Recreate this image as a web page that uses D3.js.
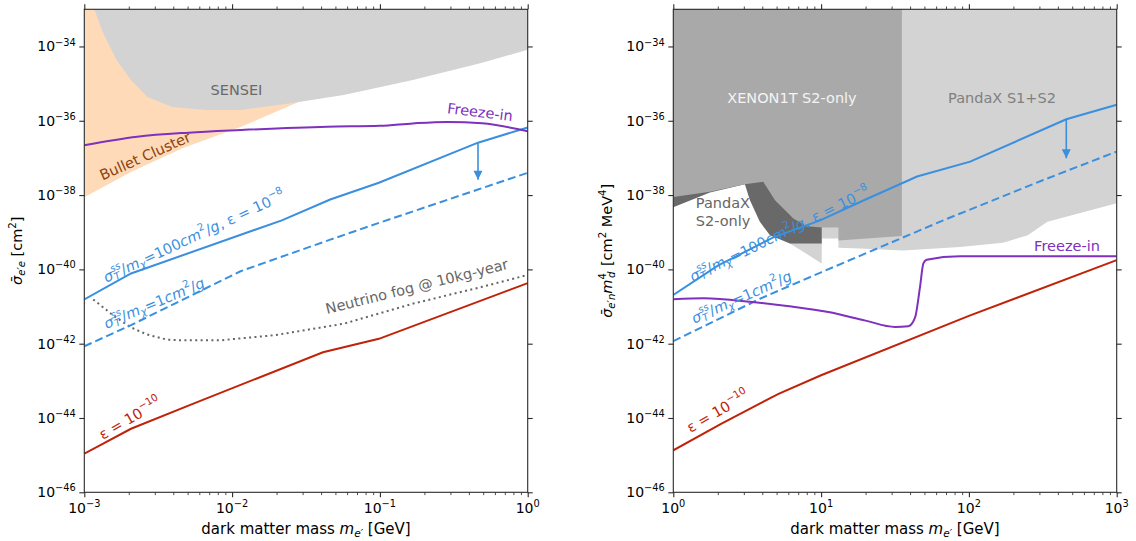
<!DOCTYPE html>
<html>
<head>
<meta charset="utf-8">
<script src="https://cdn.jsdelivr.net/npm/d3@7"></script>
<style>
body { margin: 0; background: #fff; }
svg { display: block; }
text { font-family: "DejaVu Sans", sans-serif; }
</style>
</head>
<body>
<svg id="chart"></svg>
<script>

// ---- left panel: dark electron - electron, mass [GeV], cross section [cm^2]
var senseiEdge = [[1.17e-3,1e-33],[1.34e-3,2.29e-34],[1.65e-3,4.37e-35],[2.07e-3,1.26e-35],[2.67e-3,4.37e-36],
    [3.93e-3,2.34e-36],[6.68e-3,1.95e-36],[1.14e-2,1.95e-36],[2.55e-2,3.02e-36],[5.69e-2,4.90e-36],
    [0.167,1.26e-35],[0.492,3.63e-35],[1,8.13e-35]];
var bulletEdge = [[1e-3,8.71e-39],[2.07e-3,4.17e-38],[4.61e-3,1.82e-37],[1.14e-2,6.76e-37],[2.72e-2,3.02e-36],[0.1,3.16e-35]];
var freezeInE = [[1e-3,2.19e-37],[2.28e-3,3.72e-37],[5.08e-3,4.79e-37],[1.14e-2,5.62e-37],[4.4e-2,6.92e-37],
    [0.1,7.3e-37],[0.167,8.5e-37],[0.285,9.33e-37],[0.492,8.51e-37],[1,5.25e-37]];
var sidm100E = [[1e-3,1.55e-41],[2.07e-3,7.76e-41],[2.17e-2,2.09e-39],[4.61e-2,7.59e-39],[9.84e-2,2.14e-38],[0.461,2.57e-37],[1,6.61e-37]];
var sidm1E = [[1e-3,8.51e-43],[2.07e-3,3.16e-42],[1.14e-2,8.91e-41],[4.61e-2,6.31e-40],[9.84e-2,1.78e-39],[0.461,1.41e-38],[1,3.98e-38]];
var nuFogE = [[1.15e-3,1.55e-41],[1.57e-3,5.75e-42],[2.04e-3,2.82e-42],[2.64e-3,1.78e-42],[3.6e-3,1.29e-42],[4.44e-3,1.23e-42],
    [8.28e-3,1.23e-42],[1.96e-2,1.70e-42],[5.74e-2,3.47e-42],[0.168,1.20e-41],[0.492,3.39e-41],[1,7.08e-41]];
var eps10E = [[1e-3,1.10e-45],[2.07e-3,5.13e-45],[5.42e-3,2.40e-44],[4.12e-2,5.89e-43],[9.84e-2,1.35e-42],[1,4.27e-41]];
var arrowE = [[0.461,2.57e-37],[0.461,2.57e-38]];

// ---- right panel: dark electron - nucleon, mass [GeV], cross section x m_d^4 [cm^2 MeV^4]
var pandaS1S2Edge = [[6.15,5.01e-40],[10.1,1.45e-40],[10.1,6.76e-40],[13.1,6.76e-40],[13.1,3.8e-40],[18.3,3.63e-40],
    [36,3.24e-40],[87.1,3.98e-40],[170,5.2e-40],[250,8.3e-40],[340,1.9e-39],[1000,6.03e-39]];
var pandaS2Edge = [[1,4.68e-39],[1.77,1.17e-38],[3.05,1.95e-38],[3.30,7.24e-39],[3.85,1.91e-39],[4.51,8.32e-40],[6.15,5.01e-40],[10.1,5.01e-40]];
var xenonEdge = [[1,8.91e-39],[1.77,1.23e-38],[3.05,1.95e-38],[4.06,2.29e-38],[4.88,7.24e-39],[6.49,2.34e-39],[8.0,1.45e-39],
    [10.1,1.35e-39],[13.1,1.35e-39],[13.1,6.03e-40],[35.2,7.94e-40]];
var freezeInN = [[1,1.58e-41],[1.61,1.66e-41],[3.30,1.35e-41],[6.31,1.0e-41],[11.2,7.08e-42],[20,4.17e-42],[31.6,2.82e-42],
    [38.9,2.95e-42],[43.2,5.01e-42],[46.7,3.39e-41],[49.2,1.45e-40],[51.8,1.82e-40],[87.1,2.24e-40],[1000,2.24e-40]];
var sidm100N = [[1,2.04e-41],[2.0,1.26e-40],[4.75,7.24e-40],[9.84,2.09e-39],[20,7.59e-39],[44.6,3.16e-38],[102,7.94e-38],[456,1.10e-36],[1000,2.69e-36]];
var sidm1N = [[1,1.17e-42],[3.86,1.62e-41],[10,8.32e-41],[67.1,2.09e-39],[316,2.51e-38],[1000,1.48e-37]];
var eps10N = [[1,1.35e-45],[2.12,7.08e-45],[5.15,4.47e-44],[10,1.41e-43],[100,5.62e-42],[1000,1.78e-40]];
var arrowN = [[456,1.10e-36],[456,9.77e-38]];

var xTicksE = [1e-3, 1e-2, 1e-1, 1];
var xTicksN = [1, 10, 100, 1000];
var yTicks = [1e-46, 1e-44, 1e-42, 1e-40, 1e-38, 1e-36, 1e-34];
var yDomain = [1e-46, 1e-33];

var blue = "#3a8fde", purple = "#7e30be", red = "#c0230a", fogGray = "#666666";

var width = 1136, height = 541;
var plotTop = 9.3, plotBottom = 492.3;
var axisColor = "#2a2a2a";

var svg = d3.select("#chart").attr("width", width).attr("height", height);
var defs = svg.append("defs");

defs.append("marker")
    .attr("id", "arrowBlue")
    .attr("markerUnits", "userSpaceOnUse")
    .attr("viewBox", "0 0 10 10")
    .attr("refX", 10).attr("refY", 5)
    .attr("markerWidth", 10).attr("markerHeight", 9)
    .attr("orient", "auto")
    .append("path")
    .attr("d", "M0,0 L10,5 L0,10 Z")
    .attr("fill", blue);

// write text with simple sub/superscripts, parts: {t, i, sup, sub, dx}
function mathText(sel, parts, size)
{
    var t = sel.append("text").attr("font-size", size);
    var base = 0;
    parts.forEach(function(p)
    {
        var off = 0, fs = size;
        if (p.sup) { off = -0.42 * size; fs = 0.7 * size; }
        if (p.sub) { off = 0.22 * size; fs = 0.7 * size; }
        var ts = t.append("tspan")
            .attr("dy", off - base)
            .attr("font-size", fs)
            .text(p.t);
        if (p.dx) ts.attr("dx", p.dx);
        if (p.i) ts.attr("font-style", "italic");
        base = off;
    });
    return t;
}

function expParts(v)
{
    var e = Math.round(Math.log10(v));
    return [{t: "10"}, {t: (e < 0 ? "\u2212" : "") + Math.abs(e), sup: true}];
}

function minorTicks(domain)
{
    var out = [];
    var lo = Math.round(Math.log10(domain[0])), hi = Math.round(Math.log10(domain[1]));
    for (var d = lo; d < hi; d++)
        for (var k = 2; k <= 9; k++) out.push(k * Math.pow(10, d));
    return out;
}

function makePanel(id, left, right, xDomain, xTicks)
{
    var x = d3.scaleLog().domain(xDomain).range([left, right]);
    var y = d3.scaleLog().domain(yDomain).range([plotBottom, plotTop]);

    defs.append("clipPath").attr("id", "clip" + id)
        .append("rect")
        .attr("x", left).attr("y", plotTop)
        .attr("width", right - left).attr("height", plotBottom - plotTop);

    var g = svg.append("g");
    var plot = g.append("g").attr("clip-path", "url(#clip" + id + ")");

    return { x: x, y: y, g: g, plot: plot, left: left, right: right, xTicks: xTicks, xDomain: xDomain };
}

function drawAxes(p)
{
    var axes = p.g.append("g").attr("class", "axes");
    var minors = minorTicks(p.xDomain);

    var specs = [
        [d3.axisBottom(p.x).tickValues(p.xTicks).tickSize(5), plotBottom, 1.1],
        [d3.axisBottom(p.x).tickValues(minors).tickSize(2.8), plotBottom, 0.85],
        [d3.axisTop(p.x).tickValues(p.xTicks).tickSize(5), plotTop, 1.1],
        [d3.axisTop(p.x).tickValues(minors).tickSize(2.8), plotTop, 0.85]
    ];
    specs.forEach(function(s)
    {
        var a = axes.append("g")
            .attr("transform", "translate(0," + s[1] + ")")
            .call(s[0].tickFormat(""));
        a.select(".domain").remove();
        a.selectAll("line").attr("stroke", axisColor).attr("stroke-width", s[2]);
    });

    [[d3.axisLeft(p.y), p.left], [d3.axisRight(p.y), p.right]].forEach(function(s)
    {
        var a = axes.append("g")
            .attr("transform", "translate(" + s[1] + ",0)")
            .call(s[0].tickValues(yTicks).tickSize(5).tickFormat(""));
        a.select(".domain").remove();
        a.selectAll("line").attr("stroke", axisColor).attr("stroke-width", 1.1);
    });

    axes.append("rect")
        .attr("x", p.left).attr("y", plotTop)
        .attr("width", p.right - p.left).attr("height", plotBottom - plotTop)
        .attr("fill", "none")
        .attr("stroke", axisColor)
        .attr("stroke-width", 1.1);

    p.xTicks.forEach(function(v)
    {
        mathText(axes, expParts(v), 14)
            .attr("x", p.x(v)).attr("y", 513)
            .attr("text-anchor", "middle")
            .attr("fill", "#000");
    });
    yTicks.forEach(function(v)
    {
        mathText(axes, expParts(v), 14)
            .attr("x", p.left - 8.5).attr("y", p.y(v) + 5)
            .attr("text-anchor", "end")
            .attr("fill", "#000");
    });

    mathText(axes, [{t: "dark matter mass "}, {t: "m", i: true}, {t: "e\u2032", i: true, sub: true}, {t: " [GeV]"}], 15)
        .attr("x", (p.left + p.right) / 2).attr("y", 534)
        .attr("text-anchor", "middle");
}

function region(p, edge, color)
{
    var area = d3.area()
        .x(function(d) { return p.x(d[0]); })
        .y0(function(d) { return p.y(d[1]); })
        .y1(function() { return p.y(yDomain[1]) - 2; });
    p.plot.append("path").attr("d", area(edge)).attr("fill", color).attr("stroke", "none");
}

function curve(p, data, color, dash, smooth)
{
    var line = d3.line()
        .x(function(d) { return p.x(d[0]); })
        .y(function(d) { return p.y(d[1]); });
    if (smooth) line.curve(d3.curveMonotoneX);
    var path = p.plot.append("path")
        .attr("d", line(data))
        .attr("fill", "none")
        .attr("stroke", color)
        .attr("stroke-width", 2);
    if (dash) path.attr("stroke-dasharray", dash);
    return path;
}

function arrow(p, data)
{
    p.plot.append("line")
        .attr("x1", p.x(data[0][0])).attr("y1", p.y(data[0][1]))
        .attr("x2", p.x(data[1][0])).attr("y2", p.y(data[1][1]))
        .attr("stroke", blue)
        .attr("stroke-width", 1.6)
        .attr("marker-end", "url(#arrowBlue)");
}

function label(p, parts, xv, yv, angle, color, size, anchor)
{
    var t = mathText(p.g, parts, size || 14.5)
        .attr("transform", "translate(" + p.x(xv) + "," + p.y(yv) + ") rotate(" + angle + ")")
        .attr("text-anchor", anchor || "middle")
        .attr("dominant-baseline", "central")
        .attr("fill", color);
    return t;
}

var sidm100Parts = [
    {t: "\u03c3", i: true}, {t: "ss", i: true, sup: true}, {t: "T", i: true, sub: true, dx: -10},
    {t: "/", dx: 3}, {t: "m", i: true}, {t: "\u03c7", i: true, sub: true}, {t: "=100"}, {t: "cm", i: true}, {t: "2", sup: true},
    {t: "/"}, {t: "g", i: true}, {t: ", \u03b5 = 10"}, {t: "\u22128", sup: true}
];
var sidm1Parts = [
    {t: "\u03c3", i: true}, {t: "ss", i: true, sup: true}, {t: "T", i: true, sub: true, dx: -10},
    {t: "/", dx: 3}, {t: "m", i: true}, {t: "\u03c7", i: true, sub: true}, {t: "=1"}, {t: "cm", i: true}, {t: "2", sup: true},
    {t: "/"}, {t: "g", i: true}
];
var epsParts = [{t: "\u03b5 = 10"}, {t: "\u221210", sup: true}];

// ---------------- left panel
var pe = makePanel("E", 84.3, 527.7, [1e-3, 1], xTicksE);

region(pe, bulletEdge, "#ffdab9");
region(pe, senseiEdge, "#d3d3d3");

curve(pe, nuFogE, fogGray, "2,3.4");
curve(pe, sidm1E, blue, "8,4");
curve(pe, sidm100E, blue);
curve(pe, eps10E, red);
curve(pe, freezeInE, purple, null, true);
arrow(pe, arrowE);

label(pe, [{t: "SENSEI"}], 1.07e-2, 6.76e-36, 0, "#696969");
label(pe, [{t: "Bullet Cluster"}], 2.58e-3, 1.12e-37, -24, "#8b4513");
label(pe, [{t: "Freeze-in"}], 0.476, 1.70e-36, 7, purple);
label(pe, sidm100Parts, 5.53e-3, 7.76e-40, -25, blue);
label(pe, sidm1Parts, 2.97e-3, 1.23e-41, -23, blue);
label(pe, [{t: "Neutrino fog @ 10kg-year"}], 0.178, 3.47e-41, -14, fogGray);
label(pe, epsParts, 2.04e-3, 9.77e-45, -30, red);

drawAxes(pe);

mathText(pe.g, [{t: "\u03c3\u0304", i: true}, {t: "e\u2032e", i: true, sub: true}, {t: " [cm"}, {t: "2", sup: true}, {t: "]"}], 14.5)
    .attr("transform", "translate(22," + ((plotTop + plotBottom) / 2) + ") rotate(-90)")
    .attr("text-anchor", "middle");

// ---------------- right panel
var pn = makePanel("N", 673.3, 1116.7, [1, 1000], xTicksN);

region(pn, pandaS1S2Edge, "#d3d3d3");
region(pn, pandaS2Edge, "#696969");
region(pn, xenonEdge, "#a9a9a9");

curve(pn, sidm1N, blue, "8,4");
curve(pn, sidm100N, blue);
curve(pn, eps10N, red);
curve(pn, freezeInN, purple, null, true);
arrow(pn, arrowN);

label(pn, [{t: "XENON1T S2-only"}], 6.35, 4.07e-36, 0, "#f4f4f4");
label(pn, [{t: "PandaX S1+S2"}], 167.5, 4.07e-36, 0, "#808080");
label(pn, [{t: "PandaX"}], 1.42, 6.03e-39, 0, "#666666", 14.5, "start");
label(pn, [{t: "S2-only"}], 1.42, 1.95e-39, 0, "#666666", 14.5, "start");
label(pn, [{t: "Freeze-in"}], 461, 4.17e-40, 0, purple);
label(pn, sidm100Parts, 5.24, 8.91e-40, -26, blue);
label(pn, sidm1Parts, 2.90, 1.78e-41, -24, blue);
label(pn, epsParts, 2.0, 1.51e-44, -30, red);

drawAxes(pn);

mathText(pn.g, [{t: "\u03c3\u0304", i: true}, {t: "e\u2032n", i: true, sub: true}, {t: "m", i: true},
        {t: "4", sup: true}, {t: "d", i: true, sub: true, dx: -5}, {t: " [cm", dx: 1}, {t: "2", sup: true}, {t: " MeV"}, {t: "4", sup: true}, {t: "]"}], 14.5)
    .attr("transform", "translate(612," + ((plotTop + plotBottom) / 2) + ") rotate(-90)")
    .attr("text-anchor", "middle");

</script>
</body>
</html>
